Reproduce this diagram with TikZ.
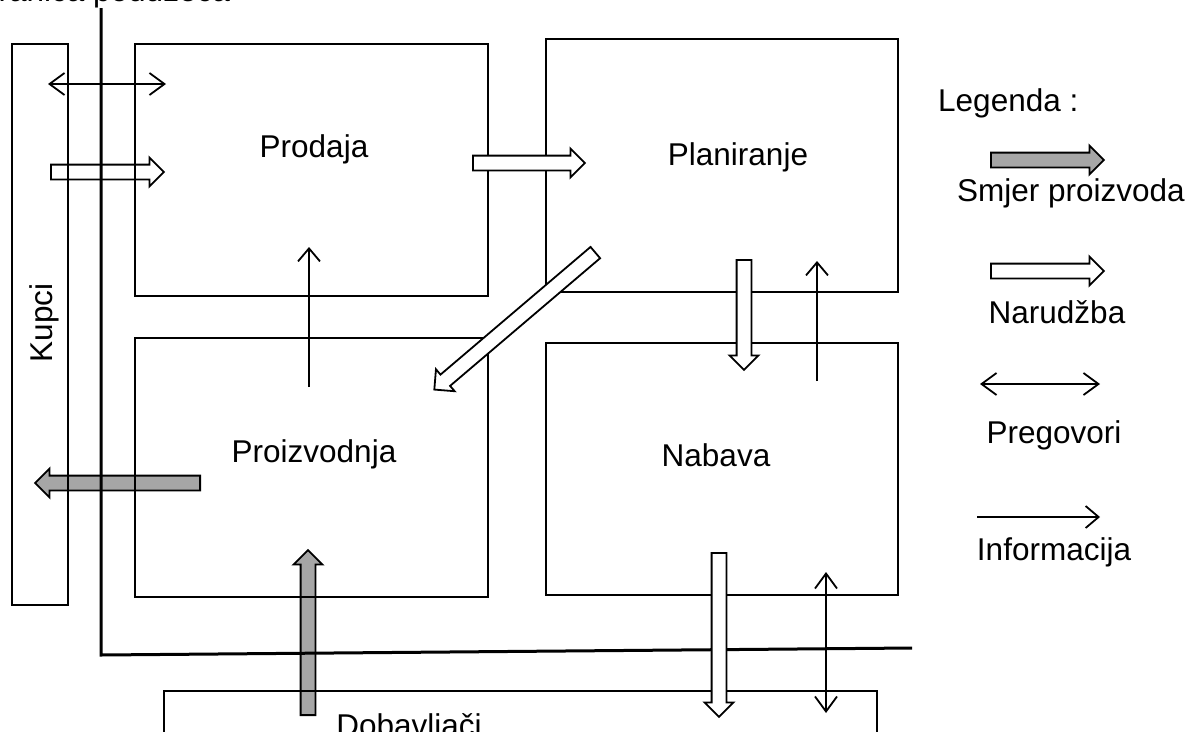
\documentclass[tikz,border=0pt]{standalone}
\usepackage{fontspec}
\setmainfont{Liberation Sans}
\usetikzlibrary{arrows.meta,shapes.arrows,calc}
\definecolor{prodgray}{RGB}{166,166,166}
\tikzset{
  box/.style={draw, line width=2pt, inner sep=0pt, anchor=north west},
  lbl/.style={font=\fontsize{31.5}{36}\selectfont, inner sep=0pt, anchor=base},
  infoarrow/.style={line width=1.8pt, -{Straight Barb[length=13pt,width=22pt]}},
  negarrow/.style={line width=1.8pt, {Straight Barb[length=15pt,width=22pt]}-{Straight Barb[length=15pt,width=22pt]}},
  blk/.style={single arrow, draw, line width=1.8pt, inner xsep=0pt, inner ysep=6.5pt,
    single arrow head extend=7pt, minimum width=0pt, anchor=tail},
  order/.style={blk, fill=white},
  ordernofill/.style={blk, fill=none},
  product/.style={blk, fill=prodgray},
  border/.style={line width=3pt}
}
\newcommand\blockarrow[3]{%
  \path let \p1=($(#3)-(#2)$) in
    node[#1, rotate={atan2(\y1,\x1)}, minimum height={veclen(\x1,\y1)}] at (#2) {};
}
\begin{document}
\begin{tikzpicture}[x=1pt,y=-1pt]
\useasboundingbox (0,0) rectangle (1196,731);

% coordinates of connectors
\coordinate (negKa) at (48,84);   \coordinate (negKb) at (166,84);
\coordinate (ordKa) at (50,172);  \coordinate (ordKb) at (163,172);
\coordinate (ordPa) at (472,163); \coordinate (ordPb) at (584,163);
\coordinate (ordDa) at (596,252); \coordinate (ordDb) at (435,389);
\coordinate (infPa) at (309,387); \coordinate (infPb) at (309,247);
\coordinate (ordNa) at (744,259); \coordinate (ordNb) at (744,369);
\coordinate (infNa) at (817,381); \coordinate (infNb) at (817,261);
\coordinate (prKa) at (201,483);  \coordinate (prKb) at (36,483);
\coordinate (prDa) at (308,716);  \coordinate (prDb) at (308,551);
\coordinate (ordSa) at (719,552); \coordinate (ordSb) at (719,716);
\coordinate (negDa) at (826,572); \coordinate (negDb) at (826,713);
\coordinate (lgPa) at (990,160);  \coordinate (lgPb) at (1103,160);
\coordinate (lgOa) at (990,271);  \coordinate (lgOb) at (1103,271);
\coordinate (lgNa) at (980,384);  \coordinate (lgNb) at (1100,384);
\coordinate (lgIa) at (977,517);  \coordinate (lgIb) at (1100,517);

% arrows lying under the lines
\blockarrow{product}{prKa}{prKb}
\blockarrow{product}{prDa}{prDb}
\blockarrow{ordernofill}{ordKa}{ordKb}

% boxes
\node[box, minimum width=56pt, minimum height=561pt] (kupci) at (11,43) {};
\node[box, minimum width=353pt, minimum height=252pt] (prodaja) at (134,43) {};
\node[box, minimum width=352pt, minimum height=253pt] (planiranje) at (545,38) {};
\node[box, minimum width=353pt, minimum height=259pt] (proizvodnja) at (134,337) {};
\node[box, minimum width=352pt, minimum height=252pt] (nabava) at (545,342) {};
\node[box, minimum width=713pt, minimum height=80pt] (dobavljaci) at (163,690) {};

% company border
\coordinate (bTop) at (101,8);
\coordinate (bCorner) at (101,655);
\coordinate (bEnd) at (912,648);
\draw[border] (bTop) -- (bCorner) -- (bEnd);

% order arrows on top
\blockarrow{order}{ordPa}{ordPb}
\blockarrow{order}{ordDa}{ordDb}
\blockarrow{order}{ordNa}{ordNb}
\blockarrow{order}{ordSa}{ordSb}

% thin arrows
\draw[negarrow] (negKa) -- (negKb);
\draw[infoarrow] (infPa) -- (infPb);
\draw[infoarrow] (infNa) -- (infNb);
\draw[negarrow] (negDa) -- (negDb);

% legend
\blockarrow{product}{lgPa}{lgPb}
\blockarrow{order}{lgOa}{lgOb}
\draw[negarrow] (lgNa) -- (lgNb);
\draw[infoarrow] (lgIa) -- (lgIb);

% texts
\node[lbl, anchor=base west] (tgran) at (-26,1.5) {Granica poduzeća};
\node[lbl, rotate=90] (tkupci) at (52,323) {Kupci};
\node[lbl] (tprodaja) at (314,157) {Prodaja};
\node[lbl] (tplan) at (738,165) {Planiranje};
\node[lbl] (tproiz) at (314,462) {Proizvodnja};
\node[lbl] (tnabava) at (716,466) {Nabava};
\node[lbl] (tdob) at (409,736) {Dobavljači};
\node[lbl, anchor=base west] (tleg) at (938,111) {Legenda :};
\node[lbl] (tl1) at (1071,201) {Smjer proizvoda};
\node[lbl] (tl2) at (1057,323) {Narudžba};
\node[lbl] (tl3) at (1054,443) {Pregovori};
\node[lbl] (tl4) at (1054,560) {Informacija};
\end{tikzpicture}
\end{document}
